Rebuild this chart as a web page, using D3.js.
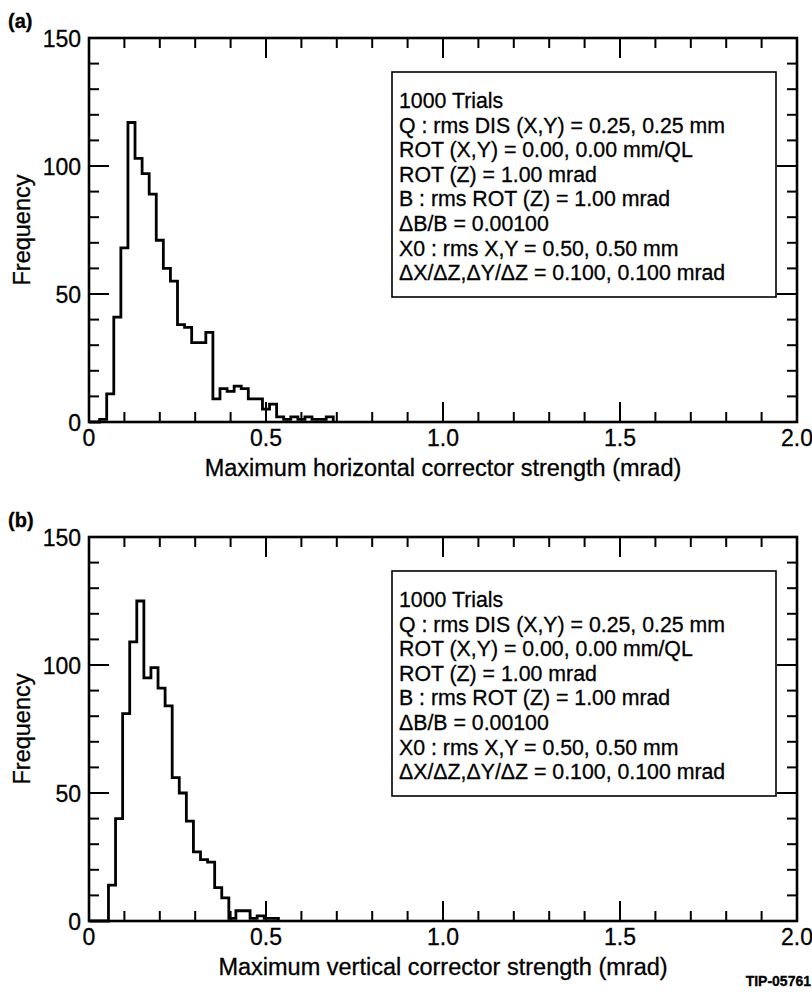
<!DOCTYPE html>
<html>
<head>
<meta charset="utf-8">
<script src="https://cdn.jsdelivr.net/npm/d3@7"></script>
</head>
<body style="margin:0;padding:0;background:#fff;">
<svg id="chart" width="812" height="994" font-family="Liberation Sans, Arial, Helvetica, sans-serif"></svg>
<script>
// histogram bins are 0.02 mrad wide, counts listed from the first bin edge
const BIN_WIDTH = 0.02;
const horizStart = 0.01;
const horizCounts = [0, 1, 11, 41, 68, 117, 103, 97, 89, 71, 60, 55, 38, 37, 31, 31, 35,
	9, 13, 12, 14, 13, 9, 9, 5, 7, 2, 1, 2, 1, 2, 1, 1, 2];
const vertStart = 0.055;
const vertCounts = [14, 40, 81, 109, 125, 95, 99, 91, 84, 56, 50, 39, 27, 24, 23,
	13, 9, 1, 4, 4, 1, 2, 1, 1];

const xDomain = [0, 2.0];
const yDomain = [0, 150];
const xMajorTicks = [0, 0.5, 1.0, 1.5, 2.0];
const xMinorTicks = [0, 0.1, 0.2, 0.3, 0.4, 0.5, 0.6, 0.7, 0.8, 0.9, 1.0,
	1.1, 1.2, 1.3, 1.4, 1.5, 1.6, 1.7, 1.8, 1.9, 2.0];
const yMajorTicks = [0, 50, 100, 150];
const yMinorTicks = [0, 10, 20, 30, 40, 50, 60, 70, 80, 90, 100, 110, 120, 130, 140, 150];

const legendLines = [
	"1000 Trials",
	"Q : rms DIS (X,Y) = 0.25, 0.25 mm",
	"ROT (X,Y) = 0.00, 0.00 mm/QL",
	"ROT (Z) = 1.00 mrad",
	"B : rms ROT (Z) = 1.00 mrad",
	"\u0394B/B = 0.00100",
	"X0 : rms X,Y = 0.50, 0.50 mm",
	"\u0394X/\u0394Z,\u0394Y/\u0394Z = 0.100, 0.100 mrad"
];

const panels = [
	{ tag: "(a)", title: "Maximum horizontal corrector strength (mrad)", start: horizStart, counts: horizCounts, top: 38 },
	{ tag: "(b)", title: "Maximum vertical corrector strength (mrad)", start: vertStart, counts: vertCounts, top: 537 }
];

const PLOT_LEFT = 89;
const PLOT_RIGHT = 797;
const PLOT_HEIGHT = 384;
const FONT_TICK = 23;
const FONT_TITLE = 23.5;
const FONT_LEGEND = 21.3;
const MINOR_LEN = 10;
const MAJOR_LEN = 20;

const svg = d3.select("#chart");

function fmtX(d) {
	return d === 0 ? "0" : d3.format(".1f")(d);
}

function scalesFor(p) {
	const bottom = p.top + PLOT_HEIGHT;
	return {
		top: p.top,
		bottom: bottom,
		x: d3.scaleLinear().domain(xDomain).range([PLOT_LEFT, PLOT_RIGHT]),
		y: d3.scaleLinear().domain(yDomain).range([bottom, p.top])
	};
}

function addText(parent, attrs, str) {
	const t = parent.append("text")
		.attr("fill", "#000")
		.attr("stroke", "#000")
		.attr("stroke-width", 0.3);
	Object.entries(attrs).forEach(([k, v]) => t.attr(k, v));
	return t.text(str);
}

function drawPanel(p) {
	const { top, bottom, x, y } = scalesFor(p);
	const g = svg.append("g");

	// frame
	g.append("rect")
		.attr("x", PLOT_LEFT).attr("y", top)
		.attr("width", PLOT_RIGHT - PLOT_LEFT).attr("height", PLOT_HEIGHT)
		.attr("fill", "none").attr("stroke", "#000").attr("stroke-width", 2.6);

	// tick labels
	xMajorTicks.forEach(d => addText(g, {
		x: x(d), y: bottom + 24, "text-anchor": "middle", "font-size": FONT_TICK
	}, fmtX(d)));
	yMajorTicks.forEach(d => addText(g, {
		x: PLOT_LEFT - 8, y: y(d) + 9, "text-anchor": "end", "font-size": FONT_TICK
	}, String(d)));

	// histogram outline
	const pts = [[0, 0]];
	p.counts.forEach((c, i) => pts.push([p.start + i * BIN_WIDTH, c]));
	pts.push([p.start + p.counts.length * BIN_WIDTH, 0]);
	const line = d3.line().x(d => x(d[0])).y(d => y(d[1])).curve(d3.curveStepAfter);
	g.append("path")
		.attr("d", line(pts))
		.attr("fill", "none").attr("stroke", "#000")
		.attr("stroke-width", 2.8).attr("stroke-linejoin", "miter");

	// legend box
	const bx = 392, by = top + 34, bw = 384, bh = 225;
	g.append("rect")
		.attr("x", bx).attr("y", by).attr("width", bw).attr("height", bh)
		.attr("fill", "#fff").attr("stroke", "#000").attr("stroke-width", 1.6);
	legendLines.forEach((s, i) => addText(g, {
		x: bx + 7, y: by + 36 + i * 24.6, "font-size": FONT_LEGEND
	}, s));

	// axis titles
	addText(g, {
		x: (PLOT_LEFT + PLOT_RIGHT) / 2, y: bottom + 54,
		"text-anchor": "middle", "font-size": FONT_TITLE
	}, p.title);
	addText(g, {
		transform: `translate(30,${(top + bottom) / 2}) rotate(-90)`,
		"text-anchor": "middle", "font-size": FONT_TITLE
	}, "Frequency");

	// panel tag
	addText(g, { x: 8, y: top - 10, "font-size": 20, "font-weight": "bold" }, p.tag);
}

// inward ticks on all four sides, longer at the labelled values
function drawTicks(p) {
	const { top, bottom, x, y } = scalesFor(p);
	const isMajX = d => xMajorTicks.some(m => Math.abs(m - d) < 1e-6);
	const isMajY = d => yMajorTicks.some(m => Math.abs(m - d) < 1e-6);
	const segs = [];
	xMinorTicks.forEach(d => {
		const len = isMajX(d) ? MAJOR_LEN : MINOR_LEN;
		segs.push([x(d), bottom, x(d), bottom - len]);
		segs.push([x(d), top, x(d), top + len]);
	});
	yMinorTicks.forEach(d => {
		const len = isMajY(d) ? MAJOR_LEN : MINOR_LEN;
		segs.push([PLOT_LEFT, y(d), PLOT_LEFT + len, y(d)]);
		segs.push([PLOT_RIGHT, y(d), PLOT_RIGHT - len, y(d)]);
	});
	segs.forEach(s => {
		svg.append("line")
			.attr("x1", s[0]).attr("y1", s[1])
			.attr("x2", s[2]).attr("y2", s[3])
			.attr("stroke", "#000")
			.attr("stroke-width", 2);
	});
}

panels.forEach(drawPanel);
panels.forEach(drawTicks);

addText(svg, {
	x: 811, y: 986, "text-anchor": "end", "font-size": 14, "font-weight": "bold"
}, "TIP-05761");
</script>
</body>
</html>
